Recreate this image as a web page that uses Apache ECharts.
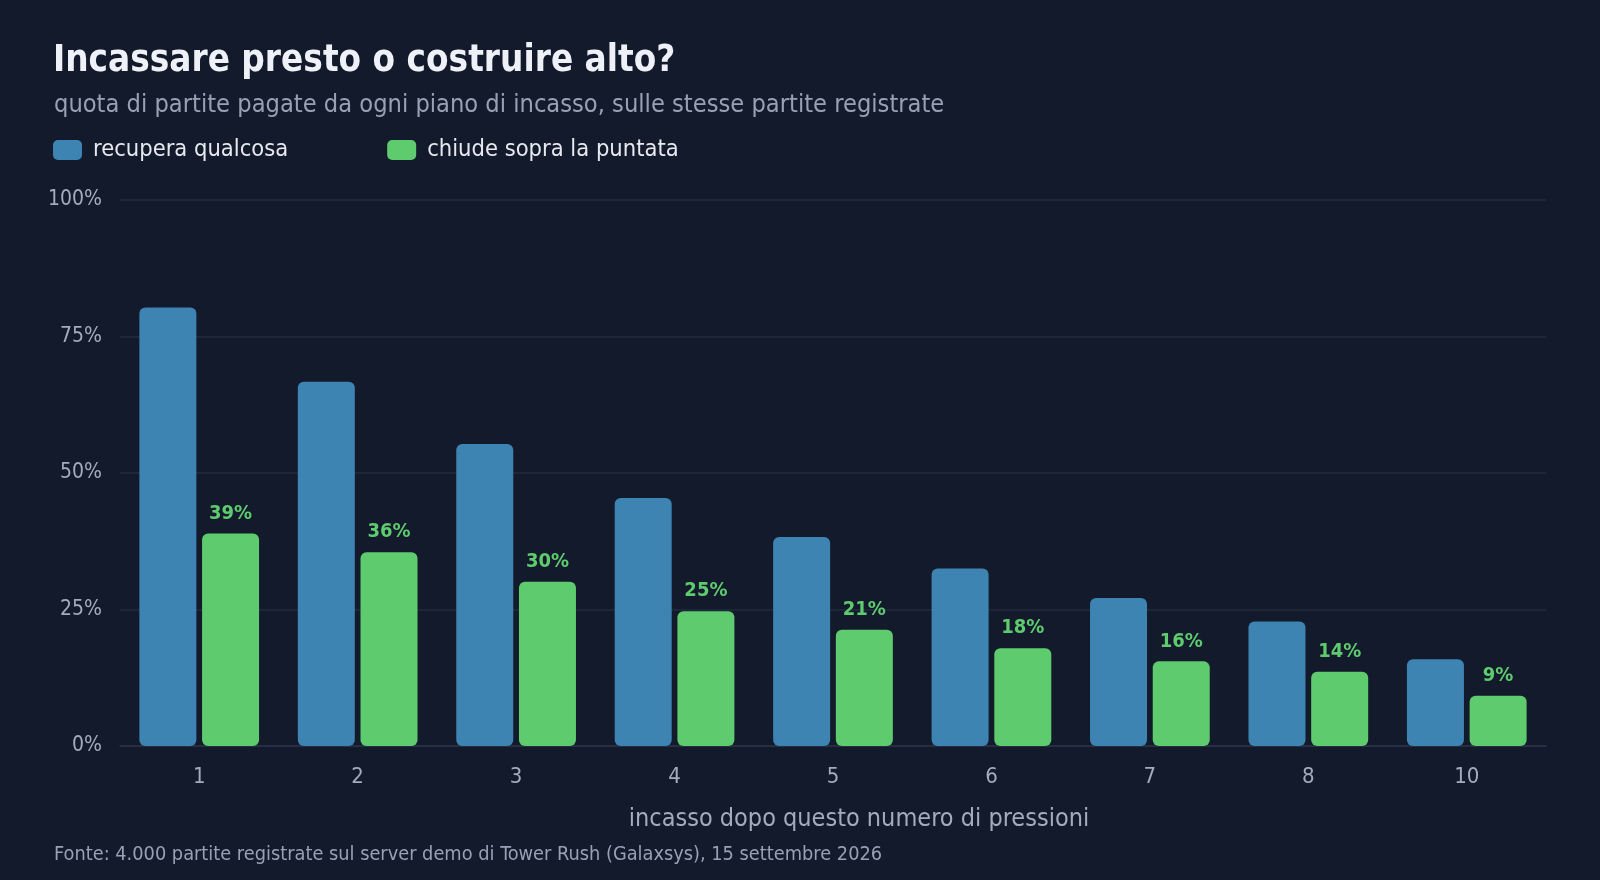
<!DOCTYPE html>
<html>
<head>
<meta charset="utf-8">
<script src="https://cdn.jsdelivr.net/npm/echarts@6/dist/echarts.min.js"></script>
<style>
html,body{margin:0;padding:0;background:#131a2b;}
#chart{width:1600px;height:880px;}
</style>
</head>
<body>
<div id="chart"></div>
<script>
const categories = ['1','2','3','4','5','6','7','8','10'];
const recuperaQualcosa = [80.3, 66.7, 55.3, 45.4, 38.3, 32.5, 27.1, 22.8, 15.9];
const chiudeSopra = [38.9, 35.5, 30.1, 24.7, 21.3, 17.9, 15.5, 13.6, 9.2];
const yTicks = [0, 25, 50, 75, 100];

const FONT = '"Liberation Sans Narrow", "DejaVu Sans Condensed", "Noto Sans", sans-serif';
const chart = echarts.init(document.getElementById('chart'));
chart.setOption({
  backgroundColor: '#131a2b',
  textStyle: { fontFamily: FONT },
  title: [
    { text: 'Incassare presto o costruire alto?', left: 48, top: 38,
      textStyle: { color: '#eef1f7', fontSize: 36.5, fontWeight: 'bold', fontFamily: FONT } },
    { text: 'quota di partite pagate da ogni piano di incasso, sulle stesse partite registrate', left: 49, top: 88,
      textStyle: { color: '#98a1b4', fontSize: 25.2, fontWeight: 'normal', fontFamily: FONT } },
    { text: 'Fonte: 4.000 partite registrate sul server demo di Tower Rush (Galaxsys), 15 settembre 2026', left: 49, top: 840,
      textStyle: { color: '#98a1b4', fontSize: 19.8, fontWeight: 'normal', fontFamily: FONT } }
  ],
  legend: {
    left: 48, top: 133, itemWidth: 29, itemHeight: 20, itemGap: 99,
    icon: 'roundRect',
    textStyle: { color: '#e6e9f0', fontSize: 23.5, fontFamily: FONT, padding: [0,0,0,6] },
    data: ['recupera qualcosa', 'chiude sopra la puntata']
  },
  grid: { left: 120, right: 54, top: 200, bottom: 134 },
  xAxis: {
    type: 'category', data: categories,
    axisTick: { show: false },
    axisLine: { lineStyle: { color: '#2a3346', width: 1.5 } },
    axisLabel: { color: '#a3abbd', fontSize: 22, margin: 20, fontFamily: FONT },
    name: 'incasso dopo questo numero di pressioni',
    nameLocation: 'middle', nameGap: 61,
    nameTextStyle: { color: '#a3abbd', fontSize: 25, fontFamily: FONT, padding: [0,0,0,52] }
  },
  yAxis: {
    type: 'value', min: 0, max: 100, interval: 25,
    axisLabel: { color: '#a3abbd', fontSize: 21, margin: 18, fontFamily: FONT,
      formatter: v => yTicks.includes(v) ? v + '%' : '' },
    splitLine: { lineStyle: { color: '#232c3e', width: 1.5 } },
    axisLine: { show: false }, axisTick: { show: false }
  },
  series: [
    { name: 'recupera qualcosa', type: 'bar', data: recuperaQualcosa,
      barWidth: 57, barGap: '10%',
      itemStyle: { color: '#3e84b3', borderRadius: 6 } },
    { name: 'chiude sopra la puntata', type: 'bar', data: chiudeSopra,
      barWidth: 57,
      itemStyle: { color: '#5ecb6e', borderRadius: 6 },
      label: { show: true, position: 'top', distance: 10, color: '#5ecb6e', fontSize: 20, fontWeight: 'bold',
        fontFamily: FONT, formatter: p => Math.round(p.value) + '%' } }
  ]
});
</script>
</body>
</html>
